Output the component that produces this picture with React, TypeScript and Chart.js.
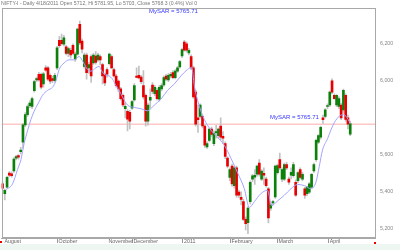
import React, { useEffect, useRef } from 'react';
import { Chart, registerables } from 'chart.js';

Chart.register(...registerables);

// ---- data ----
const OPEN = [
  5443, 5391, 5426, 5502, 5497, 5513, 5582, 5596, 5617, 5669,
  5762, 5817, 5866, 5861, 5946, 6005, 6035, 6035, 5983, 6070,
  6070, 6030, 6012, 6000, 6070, 6218, 6218, 6197, 6183, 6148,
  6165, 6191, 6117, 6144, 6305, 6215, 6078, 6139, 6070, 6131,
  6096, 6134, 6113, 6131, 6087, 6035, 6061, 6092, 6131, 6061,
  6026, 5998, 5956, 5922, 5850, 5835, 5830, 5852, 5897, 6026,
  6030, 6020, 5974, 5922, 5782, 5895, 5977, 5930, 5948, 5900,
  5956, 5977, 6026, 6005, 6026, 6044, 6017, 6052, 6075, 6134,
  6209, 6200, 6150, 6131, 6070, 5939, 5800, 5808, 5808, 5756,
  5643, 5678, 5739, 5661, 5720, 5704, 5756, 5700, 5661, 5582,
  5478, 5539, 5434, 5530, 5399, 5370, 5347, 5252, 5234, 5347,
  5469, 5480, 5495, 5556, 5469, 5500, 5469, 5417, 5312, 5340,
  5373, 5504, 5574, 5469, 5469, 5547, 5469, 5490, 5487, 5452,
  5460, 5521, 5469, 5417, 5391, 5399, 5426, 5513, 5574, 5669,
  5695, 5800, 5808, 5861, 5869, 6000, 5922, 5869, 5861, 5869,
  5843, 5922, 5800, 5712,
];
const HIGH = [
  5455, 5415, 5485, 5510, 5508, 5585, 5598, 5602, 5640, 5770,
  5828, 5870, 5892, 5912, 6002, 6020, 6045, 6042, 6045, 6082,
  6078, 6038, 6025, 6040, 6186, 6240, 6252, 6245, 6192, 6182,
  6176, 6200, 6155, 6285, 6322, 6226, 6150, 6150, 6100, 6140,
  6148, 6157, 6150, 6140, 6095, 6042, 6070, 6150, 6140, 6068,
  6035, 6005, 5965, 5930, 5880, 5845, 5840, 5895, 5985, 6070,
  6080, 6030, 6055, 5930, 5880, 5956, 5990, 5975, 5960, 5975,
  5985, 6025, 6035, 6040, 6045, 6055, 6060, 6078, 6110, 6175,
  6218, 6210, 6175, 6140, 6080, 5950, 5869, 5875, 5815, 5765,
  5670, 5745, 5750, 5730, 5760, 5745, 5800, 5725, 5670, 5590,
  5530, 5550, 5540, 5540, 5410, 5400, 5360, 5265, 5320, 5460,
  5495, 5520, 5545, 5575, 5520, 5530, 5480, 5425, 5340, 5355,
  5545, 5550, 5610, 5530, 5555, 5560, 5480, 5530, 5560, 5465,
  5510, 5530, 5505, 5425, 5430, 5450, 5500, 5555, 5685, 5710,
  5755, 5815, 5850, 5875, 5945, 6010, 5930, 5925, 5915, 5880,
  5955, 5930, 5815, 5781.95,
];
const LOW = [
  5410, 5356, 5420, 5482, 5480, 5505, 5572, 5576, 5605, 5635,
  5752, 5808, 5855, 5850, 5938, 5995, 5998, 5956, 5965, 6050,
  6000, 5985, 5990, 5992, 6060, 6180, 6192, 6188, 6140, 6130,
  6122, 6140, 6104, 6138, 6195, 6150, 6068, 6009, 6040, 5991,
  6088, 6090, 6105, 6087, 5983, 5974, 6020, 6085, 6065, 6020,
  5965, 5940, 5895, 5860, 5800, 5729, 5740, 5845, 5890, 6015,
  6010, 5985, 5900, 5755, 5760, 5852, 5930, 5920, 5895, 5890,
  5945, 5970, 6000, 5995, 6015, 6010, 6010, 6045, 6068, 6125,
  6160, 6155, 6140, 6060, 5905, 5755, 5721, 5800, 5745, 5640,
  5635, 5670, 5700, 5650, 5690, 5690, 5680, 5660, 5580, 5530,
  5460, 5430, 5420, 5370, 5370, 5330, 5245, 5195, 5175, 5335,
  5455, 5440, 5485, 5485, 5460, 5440, 5425, 5232, 5300, 5330,
  5365, 5495, 5520, 5455, 5460, 5520, 5440, 5470, 5480, 5375,
  5450, 5470, 5460, 5365, 5380, 5390, 5420, 5505, 5565, 5660,
  5685, 5770, 5800, 5850, 5860, 5930, 5900, 5860, 5850, 5790,
  5825, 5780, 5740, 5703,
];
const CLOSE = [
  5420, 5408, 5478, 5490, 5488, 5577, 5590, 5588, 5626, 5762,
  5817, 5861, 5880, 5904, 5995, 6012, 6005, 5965, 6038, 6057,
  6009, 5998, 6002, 6030, 6178, 6190, 6200, 6232, 6148, 6174,
  6139, 6148, 6144, 6279, 6204, 6170, 6139, 6044, 6087, 6026,
  6139, 6099, 6139, 6113, 6026, 5988, 6035, 6144, 6070, 6026,
  5974, 5956, 5904, 5869, 5862, 5792, 5782, 5887, 5974, 6018,
  6015, 5995, 5913, 5782, 5869, 5910, 5942, 5965, 5904, 5965,
  5974, 6017, 6009, 6030, 6035, 6017, 6052, 6070, 6104, 6169,
  6165, 6165, 6165, 6070, 5913, 5765, 5790, 5869, 5756, 5652,
  5661, 5739, 5710, 5716, 5725, 5739, 5695, 5690, 5591, 5539,
  5521, 5443, 5530, 5382, 5382, 5360, 5252, 5229, 5312, 5452,
  5487, 5490, 5539, 5495, 5513, 5490, 5434, 5260, 5330, 5347,
  5539, 5542, 5530, 5521, 5547, 5530, 5452, 5505, 5547, 5382,
  5504, 5478, 5495, 5382, 5426, 5443, 5495, 5547, 5678, 5704,
  5748, 5790, 5843, 5865, 5939, 5939, 5904, 5922, 5904, 5800,
  5948, 5791, 5765, 5768.3,
];

// MySAR curve: bar position -> value
const SAR_X = [
  1.5, 4.4, 6.6, 8.1, 9.5, 11, 12.5, 13.9, 16.1, 17.6,
  19.8, 22, 23.5, 24.9, 27.1, 29.3, 31.5, 33.7, 34.5, 35.7,
  37.4, 38.9, 41.1, 42.5, 43.3, 44.7, 46.9, 48.4, 49.9, 51.3,
  52.8, 55, 58, 60.9, 63.8, 66.8, 69.7, 72.6, 75.6, 78.5,
  81.4, 83.2, 84.4, 85.8, 88.8, 91.7, 94.6, 97.6, 100.5, 103.4,
  106.4, 108.6, 110.8, 113.7, 116.6, 118.4, 121, 124, 126.9, 129.8,
  132.8, 135.7, 137.9, 139.4, 140.8, 143, 144.5, 146, 148.2, 150.1,
  152.1, 153,
];
const SAR_Y = [
  5412, 5443, 5521, 5574, 5661, 5730, 5791, 5835, 5887, 5922,
  5948, 5965, 6000, 6061, 6096, 6113, 6113, 6131, 6122, 6096,
  6061, 6052, 6070, 6078, 6061, 6035, 6026, 6009, 5974, 5948,
  5913, 5869, 5856, 5849, 5838, 5869, 5901, 5948, 5983, 6026,
  6061, 6073, 5974, 5896, 5791, 5734, 5695, 5652, 5582, 5504,
  5417, 5316, 5347, 5391, 5408, 5326, 5351, 5382, 5417, 5440,
  5434, 5417, 5452, 5539, 5626, 5687, 5734, 5774, 5809, 5817,
  5791, 5768,
];
const SAR_LEVEL = 5765.71;

const MONTH_TICKS = [0.2, 24, 46, 57, 79.2, 100.1, 120.8, 143.3];
const MONTH_LABELS = ['August', 'October', 'November', 'December', '2011', 'February', 'March', 'April'];
const MONTH_TICK_HIDDEN = [true, false, true, false, false, false, false, false];
const Y_TICKS = [5200, 5400, 5600, 6000, 6200];

const TITLE = 'NIFTY-I - Daily 4/18/2011 Open 5712, Hi 5781.95, Lo 5703, Close 5768.3 (0.4%) Vol 0';
const SAR_TEXT = 'MySAR = ' + SAR_LEVEL.toFixed(2);

// ---- layout / style ----
const X_MIN = -0.45;
const X_MAX = 163.9;
const Y_MIN = 5151;
const Y_MAX = 6392;
const FONT = "'Liberation Sans', Arial, sans-serif";
const GREEN = '#0b800b';
const RED = '#e80000';

const frame = {
  id: 'frame',
  afterDatasetsDraw(chart: any) {
    const { ctx, chartArea: a } = chart;
    ctx.save();
    ctx.strokeStyle = '#a8a8a8';
    ctx.lineWidth = 1;
    ctx.strokeRect(Math.round(a.left) + 0.5, Math.round(a.top) + 0.5, Math.round(a.right - a.left) - 1, Math.round(a.bottom - a.top) - 1);
    ctx.restore();
  },
};

export default function App() {
  const ref = useRef<HTMLCanvasElement>(null);

  useEffect(() => {
    document.body.style.margin = '0';
    const idx = OPEN.map((_, i) => i);
    const chart = new Chart(ref.current as HTMLCanvasElement, {
      type: 'bar',
      data: {
        datasets: [
          {
            type: 'line',
            data: [{ x: X_MIN, y: SAR_LEVEL }, { x: X_MAX, y: SAR_LEVEL }],
            borderColor: '#ffacac',
            borderWidth: 1,
            pointRadius: 0,
            order: 5,
          } as any,
          {
            type: 'bar',
            data: idx.map((i) => ({ x: i, y: [LOW[i], HIGH[i]] })),
            backgroundColor: '#c2c2c2',
            barThickness: 1,
            grouped: false,
            order: 3,
          } as any,
          {
            type: 'bar',
            data: idx.map((i) => ({ x: i, y: [OPEN[i], CLOSE[i]] })),
            backgroundColor: idx.map((i) => (CLOSE[i] >= OPEN[i] ? GREEN : RED)),
            barThickness: 2,
            minBarLength: 1,
            grouped: false,
            order: 2,
          } as any,
          {
            type: 'line',
            data: SAR_X.map((x, i) => ({ x, y: SAR_Y[i] })),
            borderColor: '#a3a3ff',
            borderWidth: 1,
            pointRadius: 0,
            cubicInterpolationMode: 'monotone',
            order: 1,
          } as any,
        ],
      },
      options: {
        animation: false,
        responsive: false,
        layout: { padding: { left: 1.5, top: 0.5, right: 0, bottom: 0 } },
        plugins: { legend: { display: false }, tooltip: { enabled: false }, title: { display: false } },
        scales: {
          x: {
            type: 'linear',
            position: 'bottom',
            min: X_MIN,
            max: X_MAX,
            bounds: 'data',
            offset: false,
            grid: {
              display: true,
              drawOnChartArea: false,
              drawTicks: true,
              tickLength: 5,
              offset: false,
              color: (c: any) => (MONTH_TICK_HIDDEN[c.index] ? 'rgba(0,0,0,0)' : '#999'),
            },
            border: { display: true, color: '#a8a8a8' },
            ticks: {
              autoSkip: false,
              maxRotation: 0,
              align: 'start',
              padding: -5,
              color: '#666',
              font: { size: 5.3, family: FONT },
              callback: (_v: any, i: number) => ' ' + MONTH_LABELS[i],
            },
            afterBuildTicks: (s: any) => {
              s.ticks = MONTH_TICKS.map((v) => ({ value: v }));
            },
            afterFit: (s: any) => {
              s.height = 12;
            },
          } as any,
          y: {
            type: 'linear',
            position: 'right',
            min: Y_MIN,
            max: Y_MAX,
            bounds: 'data',
            beginAtZero: false,
            grid: { display: false, drawTicks: false },
            border: { display: true, color: '#a8a8a8' },
            ticks: {
              padding: 5,
              color: '#888',
              font: { size: 5.3, family: FONT },
              callback: (v: any) => Number(v).toLocaleString('en-US'),
            },
            afterBuildTicks: (s: any) => {
              s.ticks = Y_TICKS.map((v) => ({ value: v }));
            },
            afterFit: (s: any) => {
              s.width = 25;
            },
          } as any,
        },
      },
      plugins: [frame],
    });
    return () => chart.destroy();
  }, []);

  const text: React.CSSProperties = {
    position: 'absolute',
    whiteSpace: 'nowrap',
    fontFamily: FONT,
    lineHeight: 1,
  };

  return (
    <div
      style={{
        position: 'relative',
        width: 400,
        height: 250,
        background: 'linear-gradient(to bottom, #ffffff 0px, #ffffff 244px, #eef6f2 244px, #eef6f2 250px)',
        overflow: 'hidden',
      }}
    >
      <canvas ref={ref} width={400} height={250} style={{ position: 'absolute', left: 0, top: 0, display: 'block' }} />
      <div style={{ ...text, left: 1, top: 1, fontSize: 5.15, color: '#777' }}>{TITLE}</div>
      <div style={{ ...text, left: 149, top: 7.7, fontSize: 6, color: '#3636ff' }}>{SAR_TEXT}</div>
      <div style={{ ...text, left: 270, top: 114.2, fontSize: 6, color: '#3636ff' }}>{SAR_TEXT}</div>
      <div style={{ position: 'absolute', left: 0, top: 241, width: 2, height: 2, background: '#e00' }} />
      <div style={{ position: 'absolute', left: 374, top: 242, width: 2, height: 2, background: '#e00' }} />
    </div>
  );
}
